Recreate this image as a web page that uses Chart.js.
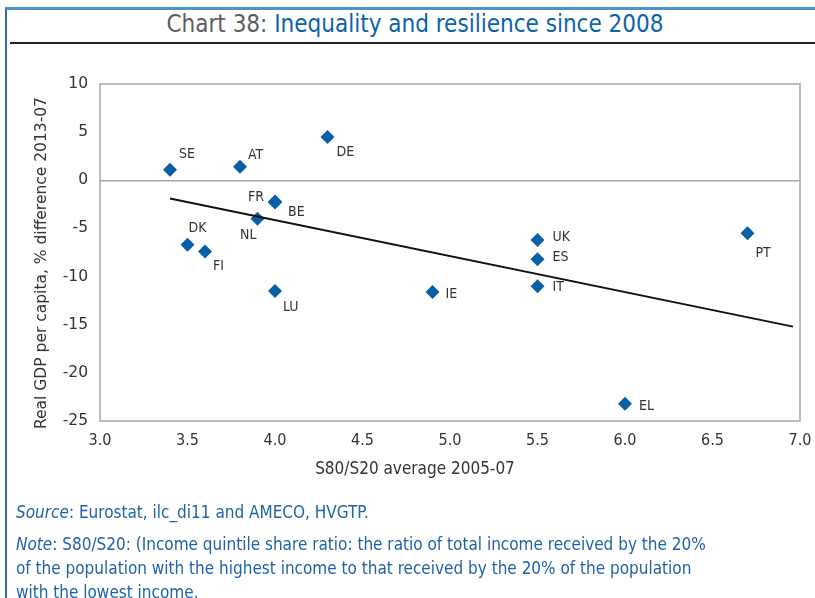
<!DOCTYPE html>
<html>
<head>
<meta charset="utf-8">
<script src="https://cdn.jsdelivr.net/npm/chart.js@4"></script>
<style>
  body { margin: 0; background: #fff; }
  #wrap { position: relative; width: 815px; height: 598px; overflow: hidden; }
  #frame { position: absolute; left: 5px; top: 7px; width: 900px; height: 700px;
           border-left: 2px solid #2a6fb3; border-top: 3px solid #4a93cb; }
  #title { position: absolute; left: 0; top: 10px; width: 830px; text-align: center;
           font: 24px "DejaVu Sans Condensed", sans-serif; color: #0b63a8; }
  #title span { color: #5d5d5d; }
  #rule { position: absolute; left: 10px; top: 42px; width: 805px; height: 2px; background: #222; }
  canvas { position: absolute; left: 0; top: 0; }
  .axt { position: absolute; font: 17px "DejaVu Sans Condensed", sans-serif; color: #333; white-space: nowrap; }
  #xt { left: 215px; width: 400px; top: 458px; text-align: center; }
  #yt { left: -159px; width: 400px; top: 254px; text-align: center; transform: rotate(-90deg);
        font: 15.5px "DejaVu Sans", sans-serif; }
  .foot { position: absolute; left: 16px; font: 17px "DejaVu Sans Condensed", sans-serif;
          color: #1f63a6; white-space: nowrap; }
</style>
</head>
<body>
<div id="wrap">
  <div id="frame"></div>
  <div id="title"><span>Chart 38:</span> Inequality and resilience since 2008</div>
  <div id="rule"></div>
  <canvas id="c" width="815" height="598"></canvas>
  <div class="axt" id="xt">S80/S20 average 2005-07</div>
  <div class="axt" id="yt">Real GDP per capita, % difference 2013-07</div>
  <div class="foot" style="top:502px"><i>Source</i>: Eurostat, ilc_di11 and AMECO, HVGTP.</div>
  <div class="foot" style="top:534px"><i>Note</i>: S80/S20: (Income quintile share ratio: the ratio of total income received by the 20%</div>
  <div class="foot" style="top:558px">of the population with the highest income to that received by the 20% of the population</div>
  <div class="foot" style="top:582px">with the lowest income.</div>
</div>
<script>
// data
const countries = ['SE', 'AT', 'DE', 'FR', 'BE', 'NL', 'DK', 'FI', 'LU', 'UK', 'ES', 'IT', 'IE', 'EL', 'PT'];
const s80s20    = [3.4, 3.8, 4.3, 4.0, 4.0, 3.9, 3.5, 3.6, 4.0, 5.5, 5.5, 5.5, 4.9, 6.0, 6.7];
const gdpDiff   = [1.1, 1.4, 4.5, -2.3, -2.2, -4.0, -6.7, -7.4, -11.5, -6.2, -8.2, -11.0, -11.6, -23.2, -5.5];
const trendX = [3.4, 6.96];
const trendY = [-1.9, -15.2];

// label placement next to each diamond (px offset, text align)
const labelPos = {
  SE: [9, -15, 'left'], AT: [8, -11, 'left'], DE: [9, 15, 'left'],
  FR: [-11, -5, 'right'], BE: [13, 11, 'left'], NL: [-1, 17, 'right'],
  DK: [1, -16, 'left'], FI: [8, 15, 'left'], LU: [8, 16, 'left'],
  UK: [15, -3, 'left'], ES: [15, -2, 'left'], IT: [15, 1, 'left'],
  IE: [13, 2, 'left'], EL: [14, 3, 'left'], PT: [8, 20, 'left']
};

const points = countries.map((c, i) => ({ x: s80s20[i], y: gdpDiff[i] }));
const trend = trendX.map((x, i) => ({ x: x, y: trendY[i] }));

const frameAndLabels = {
  id: 'frameAndLabels',
  beforeDatasetsDraw(chart) {
    const { ctx, chartArea: a } = chart;
    ctx.save();
    ctx.strokeStyle = '#a6a6a6';
    ctx.lineWidth = 1.5;
    ctx.strokeRect(a.left, a.top, a.right - a.left, a.bottom - a.top);
    ctx.restore();
  },
  afterDatasetsDraw(chart) {
    const { ctx } = chart;
    const meta = chart.getDatasetMeta(1);
    ctx.save();
    ctx.font = '14px "Liberation Sans Narrow", "DejaVu Sans Condensed", sans-serif';
    ctx.fillStyle = '#333';
    ctx.textBaseline = 'middle';
    meta.data.forEach((pt, i) => {
      const p = labelPos[countries[i]];
      ctx.textAlign = p[2];
      ctx.fillText(countries[i], pt.x + p[0], pt.y + p[1]);
    });
    ctx.restore();
  }
};

new Chart(document.getElementById('c'), {
  type: 'scatter',
  data: {
    datasets: [
      {
        data: trend,
        showLine: true,
        borderColor: '#111',
        borderWidth: 2,
        pointRadius: 0,
        pointHoverRadius: 0
      },
      {
        data: points,
        pointStyle: 'rectRot',
        pointRadius: 7,
        pointHoverRadius: 7,
        backgroundColor: '#0a5ea5',
        borderColor: '#0a5ea5',
        borderWidth: 0
      }
    ]
  },
  options: {
    responsive: false,
    devicePixelRatio: 1,
    animation: false,
    layout: { padding: { left: 25, right: 15, top: 84, bottom: 117 } },
    plugins: { legend: { display: false }, tooltip: { enabled: false } },
    scales: {
      x: {
        type: 'linear',
        min: 3, max: 7,
        afterFit: s => { s.height = 60; s.paddingLeft = 0; s.paddingRight = 0; },
        grid: { display: false, drawTicks: false },
        border: { display: false },
        ticks: {
          stepSize: 0.5,
          padding: 10,
          color: '#333',
          font: { family: '"DejaVu Sans Condensed", sans-serif', size: 16 },
          callback: v => v.toFixed(1)
        }
      },
      y: {
        min: -25, max: 10,
        afterFit: s => { s.width = 75; },
        grid: {
          drawTicks: false,
          color: c => c.tick && c.tick.value === 0 ? '#a6a6a6' : 'rgba(0,0,0,0)',
          lineWidth: 1.5
        },
        border: { display: false },
        ticks: {
          stepSize: 5,
          padding: 12,
          color: '#333',
          font: { family: '"DejaVu Sans", sans-serif', size: 15.5 }
        }
      }
    }
  },
  plugins: [frameAndLabels]
});
</script>
</body>
</html>
